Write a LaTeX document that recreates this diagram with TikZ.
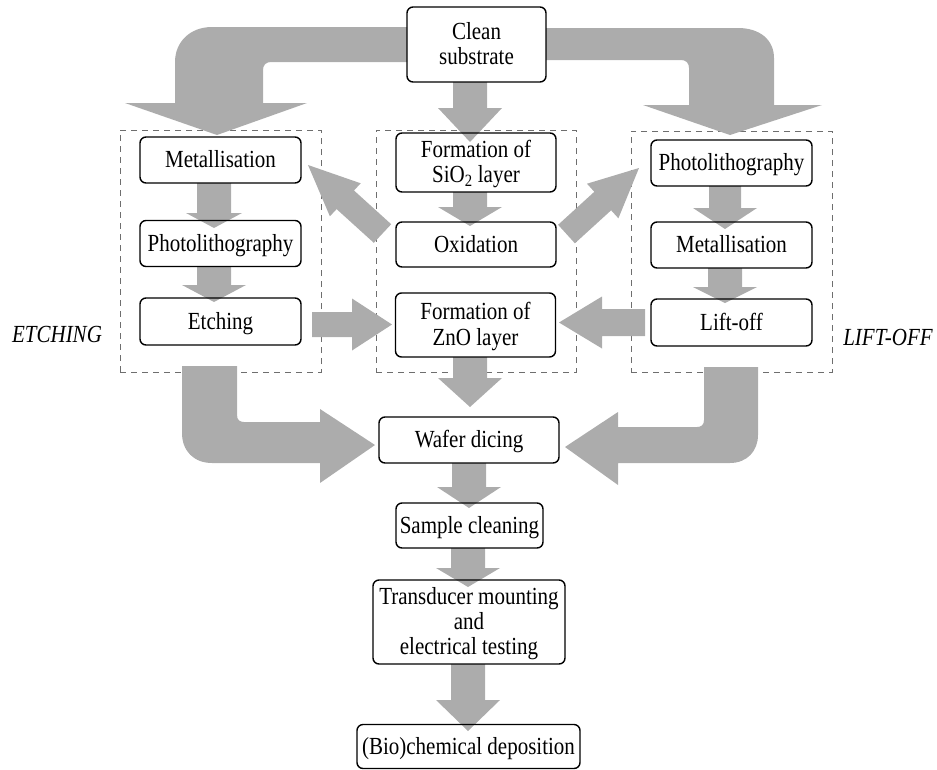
\documentclass[tikz,border=0pt]{standalone}
\usepackage{fontspec}
\setmainfont{Liberation Serif}
\definecolor{arrgray}{RGB}{172,172,172}
\definecolor{dashgray}{RGB}{110,110,110}
\newcommand\dnarr[6]{% cx, ytop, yhead, ytip, shaft half, head half
  \fill[arrgray] ({#1-#5},#2) -- ({#1+#5},#2) -- ({#1+#5},#3) -- ({#1+#6},#3) -- (#1,#4) -- ({#1-#6},#3) -- ({#1-#5},#3) -- cycle;}
\newcommand\hzarr[6]{% cy, xstart, xhead, xtip, shaft half, head half
  \fill[arrgray] (#2,{#1-#5}) -- (#3,{#1-#5}) -- (#3,{#1-#6}) -- (#4,#1) -- (#3,{#1+#6}) -- (#3,{#1+#5}) -- (#2,{#1+#5}) -- cycle;}
\newcommand\tx[1]{\raisebox{0pt}[\height][\dimexpr\depth-5pt\relax]{\scalebox{1}[1.17]{\begin{tabular}{@{}c@{}}#1\end{tabular}}}}
\begin{document}
\begin{tikzpicture}[x=1pt,y=-1pt,
  box/.style={draw=black, line width=1.4pt, rounded corners=6pt, align=center,
    inner sep=0pt, font=\fontsize{21}{21.4}\selectfont},
  grp/.style={draw=dashgray, line width=0.8pt, dash pattern=on 6pt off 5pt, inner sep=0pt},
  lab/.style={font=\fontsize{21}{21.4}\selectfont\itshape, inner sep=0pt}]
\useasboundingbox (0,0) rectangle (937,769);

% ---- group frames
\node[grp, minimum width=201pt, minimum height=242pt] (lgrp) at (220.5,251) {};
\node[grp, minimum width=200pt, minimum height=242pt] (mgrp) at (476,251) {};
\node[grp, minimum width=201pt, minimum height=241pt] (rgrp) at (731.5,251.5) {};

% ---- big curved arrows
\fill[arrgray] (407,27) -- (212,27) .. controls (190,27) and (175,42) .. (175,62)
  -- (175,103) -- (125,103) -- (217,135) -- (307,103) -- (263,103) -- (263,70)
  .. controls (263,65) and (266,62) .. (271,62) -- (407,62) -- cycle;
\fill[arrgray] (546,28) -- (738,28) .. controls (760,28) and (774,40) .. (774,58)
  -- (774,105) -- (822,105) -- (730,135) -- (643,105) -- (689,105) -- (689,68)
  .. controls (689,63) and (686,60) .. (681,60) -- (546,60) -- cycle;
\fill[arrgray] (182,366) -- (237,366) -- (237,415) .. controls (237,420) and (240,422) .. (244,422)
  -- (320,422) -- (320,409) -- (375,445) -- (320,483) -- (320,463) -- (212,463)
  .. controls (194,463) and (182,451) .. (182,433) -- cycle;
\fill[arrgray] (758,367) -- (704,367) -- (704,420) .. controls (704,425) and (701,427) .. (697,427)
  -- (618,427) -- (618,412) -- (565,447) -- (618,485) -- (618,463) -- (730,463)
  .. controls (747,463) and (758,451) .. (758,435) -- cycle;

% ---- diagonal arrows
\fill[arrgray] (391.2,224.2) -- (354.0,190.5) -- (360.7,183.3) -- (308,165)
  -- (329.9,216.3) -- (336.6,209.1) -- (373.8,242.8) -- cycle;
\fill[arrgray] (574.9,243.3) -- (611.1,210.3) -- (618.4,218.3) -- (639,168)
  -- (587.0,183.7) -- (594.3,191.8) -- (558.1,224.8) -- cycle;

% ---- horizontal arrows
\hzarr{324.5}{312}{352}{392}{12.5}{26}
\hzarr{322.5}{645}{602}{559}{13.5}{26}

% ---- small down arrows
\dnarr{214}{183}{213}{228}{17}{28}
\dnarr{214}{267}{285}{302}{17}{32}
\dnarr{470}{82}{108}{142}{17}{32}
\dnarr{470}{192}{207}{226}{17}{32}
\dnarr{725}{186}{208}{229}{16}{32}
\dnarr{725}{268}{287}{303}{17}{32}
\dnarr{470}{357}{378}{407}{17}{32}
\dnarr{469}{463}{487}{508}{17}{32}
\dnarr{468}{548}{568}{587}{17}{32}
\dnarr{468}{664}{700}{731}{17}{32}

% ---- boxes
\node[box, minimum width=139pt, minimum height=75pt] (clean) at (476.5,44.5) {\tx{Clean\\substrate}};
\node[box, minimum width=161pt, minimum height=46pt] (lmet) at (220.5,160) {\tx{Metallisation}};
\node[box, minimum width=161pt, minimum height=46pt] (lpho) at (220.5,243.5) {\tx{Photolithography}};
\node[box, minimum width=161pt, minimum height=47pt] (letch) at (220.5,321.5) {\tx{Etching}};
\node[box, minimum width=160pt, minimum height=59pt] (sio) at (476,162.5) {\tx{Formation of\\SiO\textsubscript{2} layer}};
\node[box, minimum width=160pt, minimum height=45pt] (oxid) at (476,244.5) {\tx{Oxidation}};
\node[box, minimum width=160pt, minimum height=64pt] (zno) at (475.5,325) {\tx{Formation of\\ZnO layer}};
\node[box, minimum width=161pt, minimum height=46pt] (rpho) at (731.5,163) {\tx{Photolithography}};
\node[box, minimum width=161pt, minimum height=46pt] (rmet) at (731.5,245) {\tx{Metallisation}};
\node[box, minimum width=161pt, minimum height=47pt] (lift) at (731.5,322.5) {\tx{Lift-off}};
\node[box, minimum width=180pt, minimum height=46pt] (wafer) at (469,440) {\tx{Wafer dicing}};
\node[box, minimum width=147pt, minimum height=45pt] (sample) at (469.5,525.5) {\tx{Sample cleaning}};
\node[box, minimum width=192pt, minimum height=84pt] (trans) at (469,622) {\tx{Transducer mounting\\and\\electrical testing}};
\node[box, minimum width=223pt, minimum height=44pt] (bio) at (468.5,746.5) {\tx{(Bio)chemical deposition}};

% ---- side labels
\node[lab] (etchlab) at (57,335) {\tx{ETCHING}};
\node[lab] (liftlab) at (888,338) {\tx{LIFT-OFF}};
\end{tikzpicture}
\end{document}
